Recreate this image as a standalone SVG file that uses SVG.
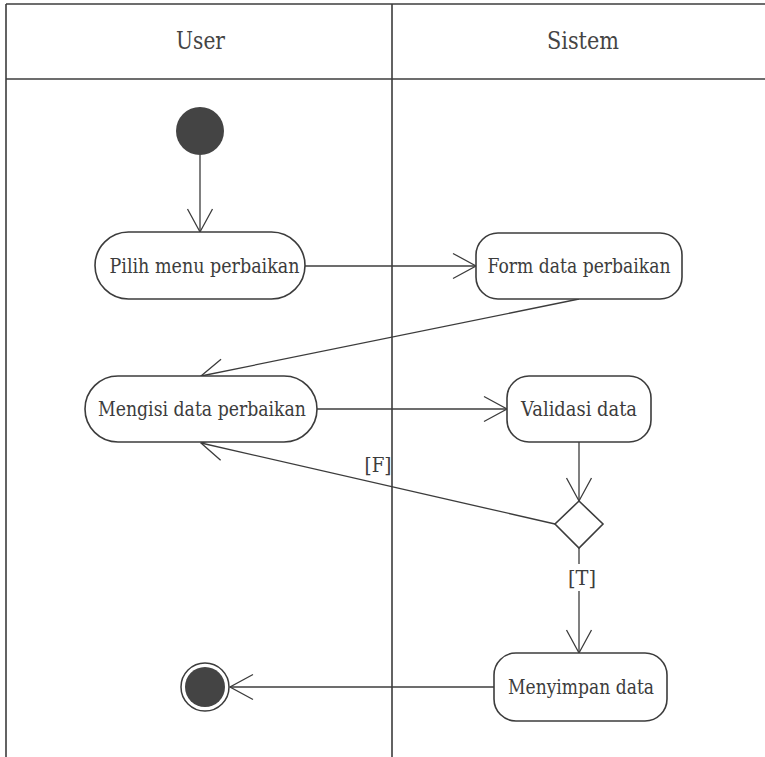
<svg xmlns="http://www.w3.org/2000/svg" width="765" height="757" viewBox="0 0 765 757">
  <defs>
    <style>
      .frame { fill: none; stroke: #3c3c3c; stroke-width: 1.6; }
      .node rect { fill: #ffffff; stroke: #3c3c3c; stroke-width: 1.6; }
      text { font-family: "DejaVu Serif", "Liberation Serif", serif; }
      .lbl { font-size: 21px; fill: #3c3c3c; text-anchor: middle; }
      .hdr { font-size: 25px; fill: #444444; text-anchor: middle; }
      .edge { fill: none; stroke: #3c3c3c; stroke-width: 1.3; marker-end: url(#arr); }
    </style>
    <marker id="arr" markerUnits="userSpaceOnUse" viewBox="-26 -15 28 30" refX="0" refY="0" markerWidth="28" markerHeight="30" orient="auto" overflow="visible">
      <path d="M-23,-12.5 L0,0 L-23,12.5" fill="none" stroke="#3c3c3c" stroke-width="1.3"/>
    </marker>
  </defs>
  <rect width="765" height="757" fill="#ffffff"/>

  <g id="swimlanes">
    <line class="frame" x1="6" y1="4" x2="765" y2="4"/>
    <line class="frame" x1="6" y1="79" x2="765" y2="79"/>
    <line class="frame" x1="6" y1="4" x2="6" y2="757"/>
    <line class="frame" x1="392" y1="4" x2="392" y2="757"/>
    <text class="hdr" x="200.5" y="49" textLength="49" lengthAdjust="spacingAndGlyphs">User</text>
    <text class="hdr" x="583" y="49" textLength="72" lengthAdjust="spacingAndGlyphs">Sistem</text>
  </g>

  <g id="connectors">
    <line class="edge" x1="200" y1="155" x2="200" y2="232"/>
    <line class="edge" x1="305" y1="266" x2="476" y2="266"/>
    <line class="edge" x1="579" y1="299" x2="201" y2="376"/>
    <line class="edge" x1="317" y1="409" x2="507" y2="409"/>
    <line class="edge" x1="579" y1="442" x2="579" y2="501"/>
    <line class="edge" x1="555" y1="524" x2="201" y2="443"/>
    <line class="edge" x1="579" y1="548" x2="579" y2="653"/>
    <line class="edge" x1="494" y1="687" x2="230" y2="687"/>
    <rect x="567" y="564" width="26" height="27" fill="#ffffff"/>
    <text class="lbl" x="582" y="585" textLength="28" lengthAdjust="spacingAndGlyphs">[T]</text>
    <text class="lbl" x="378" y="472" textLength="27" lengthAdjust="spacingAndGlyphs">[F]</text>
  </g>

  <g id="start">
    <circle cx="200" cy="131" r="24" fill="#444444"/>
  </g>

  <g id="n-pilih" class="node">
    <rect x="95" y="232" width="210" height="67" rx="33.5"/>
    <text class="lbl" x="204.5" y="273" textLength="190" lengthAdjust="spacingAndGlyphs">Pilih menu perbaikan</text>
  </g>

  <g id="n-form" class="node">
    <rect x="476" y="233" width="206" height="66" rx="22"/>
    <text class="lbl" x="579" y="273" textLength="183" lengthAdjust="spacingAndGlyphs">Form data perbaikan</text>
  </g>

  <g id="n-mengisi" class="node">
    <rect x="85" y="376" width="232" height="66" rx="33"/>
    <text class="lbl" x="202" y="416" textLength="208" lengthAdjust="spacingAndGlyphs">Mengisi data perbaikan</text>
  </g>

  <g id="n-validasi" class="node">
    <rect x="507" y="376" width="144" height="66" rx="22"/>
    <text class="lbl" x="579" y="416" textLength="116" lengthAdjust="spacingAndGlyphs">Validasi data</text>
  </g>

  <g id="decision">
    <polygon points="579,501 603,524 579,548 555,524" fill="#ffffff" stroke="#3c3c3c" stroke-width="1.6"/>
  </g>

  <g id="n-menyimpan" class="node">
    <rect x="494" y="653" width="173" height="68" rx="22"/>
    <text class="lbl" x="581" y="694" textLength="146" lengthAdjust="spacingAndGlyphs">Menyimpan data</text>
  </g>

  <g id="end">
    <circle cx="205" cy="687" r="24" fill="#ffffff" stroke="#3c3c3c" stroke-width="1.5"/>
    <circle cx="205" cy="687" r="20" fill="#444444"/>
  </g>
</svg>
